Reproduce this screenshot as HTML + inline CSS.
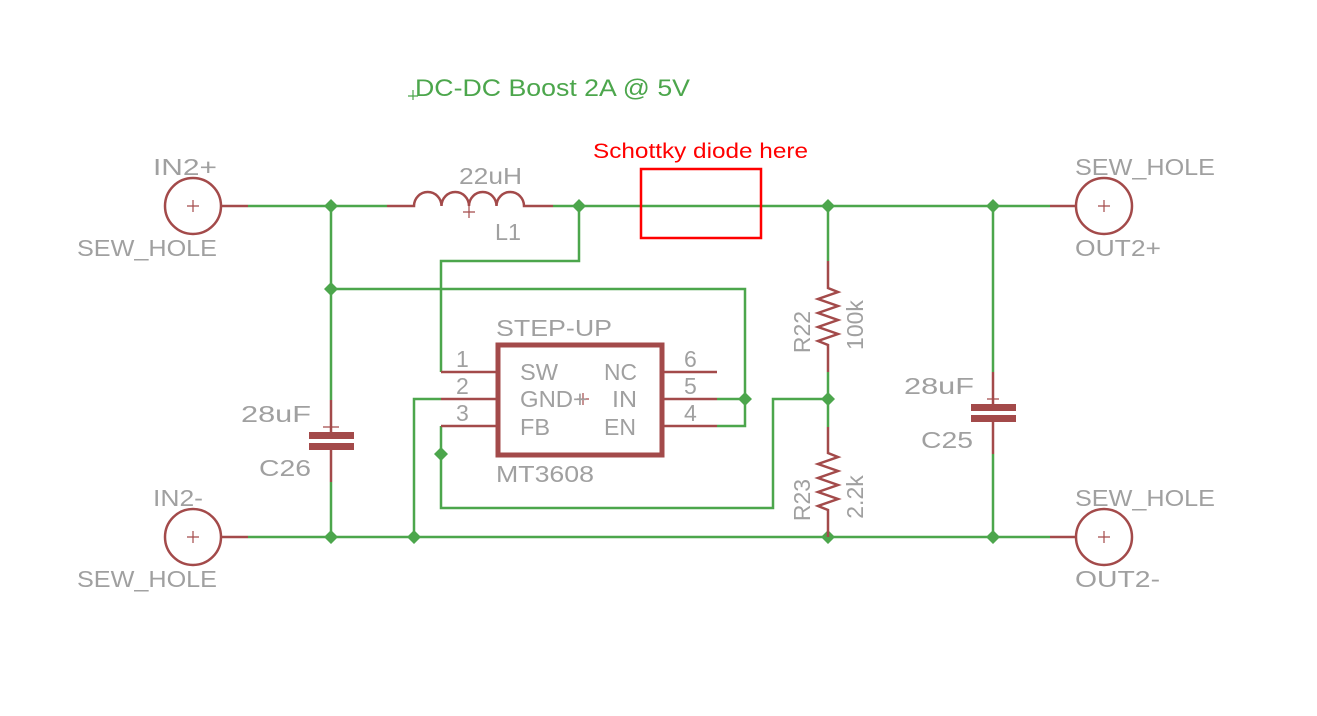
<!DOCTYPE html>
<html><head><meta charset="utf-8"><style>
html,body{margin:0;padding:0;background:#fff;}
svg{display:block;}
text{font-family:"Liberation Sans","DejaVu Sans",sans-serif;}
.g{fill:#a0a0a0;font-size:23px;}
</style></head><body>
<svg width="1317" height="716" viewBox="0 0 1317 716" xmlns="http://www.w3.org/2000/svg">
<g stroke="#4ca64c" stroke-width="2.5" fill="none">
<line x1="248" y1="206" x2="387" y2="206"/>
<line x1="553" y1="206" x2="1050" y2="206"/>
<line x1="248" y1="537" x2="1050" y2="537"/>
<line x1="331" y1="206" x2="331" y2="400"/>
<line x1="331" y1="482" x2="331" y2="537"/>
<line x1="993" y1="206" x2="993" y2="372"/>
<line x1="993" y1="454" x2="993" y2="537"/>
<line x1="828" y1="206" x2="828" y2="261"/>
<line x1="828" y1="372" x2="828" y2="427"/>
<polyline points="579,206 579,261 441,261 441,372"/>
<polyline points="331,289 745,289 745,426 717,426"/>
<line x1="717" y1="399" x2="745" y2="399"/>
<polyline points="441,399 414,399 414,537"/>
<polyline points="441,426 441,508 773,508 773,399 828,399"/>
</g>
<g fill="#4ca64c">
<path d="M331,199l7,7l-7,7l-7,-7z M331,282l7,7l-7,7l-7,-7z M331,530l7,7l-7,7l-7,-7z M414,530l7,7l-7,7l-7,-7z M579,199l7,7l-7,7l-7,-7z M828,199l7,7l-7,7l-7,-7z M828,392l7,7l-7,7l-7,-7z M828,530l7,7l-7,7l-7,-7z M993,199l7,7l-7,7l-7,-7z M993,530l7,7l-7,7l-7,-7z M745,392l7,7l-7,7l-7,-7z M441,447l7,7l-7,7l-7,-7z"/>
</g>
<g stroke="#a34a4a" stroke-width="2.5" fill="none">
<circle cx="193" cy="206" r="28"/><circle cx="193" cy="537" r="28"/>
<circle cx="1104" cy="206" r="28"/><circle cx="1104" cy="537" r="28"/>
<line x1="221" y1="206" x2="248" y2="206"/><line x1="221" y1="537" x2="248" y2="537"/>
<line x1="1050" y1="206" x2="1076" y2="206"/><line x1="1050" y1="537" x2="1076" y2="537"/>
<path d="M387,206 L414,206 A13.75,14 0 0 1 441.5,206 A13.75,14 0 0 1 469,206 A13.75,14 0 0 1 496.5,206 A13.75,14 0 0 1 524,206 L553,206"/>
<line x1="331" y1="400" x2="331" y2="432"/><line x1="331" y1="450" x2="331" y2="482"/>
<line x1="993" y1="372" x2="993" y2="404"/><line x1="993" y1="421" x2="993" y2="454"/>
<polyline points="828,261 828,288 838,292 818,299 838,306 818,313 838,320 818,327 838,334 818,341 828,345 828,372"/>
<polyline points="828,427 828,453 838,457 818,464 838,471 818,478 838,485 818,492 838,499 818,506 828,510 828,537"/>
<line x1="441" y1="372" x2="497" y2="372"/><line x1="441" y1="399" x2="497" y2="399"/><line x1="441" y1="426" x2="497" y2="426"/>
<line x1="662" y1="372" x2="717" y2="372"/><line x1="662" y1="399" x2="717" y2="399"/><line x1="662" y1="426" x2="717" y2="426"/>
</g>
<rect x="498" y="345" width="164" height="110" fill="none" stroke="#a34a4a" stroke-width="5"/>
<g fill="#a34a4a">
<rect x="309" y="432" width="45" height="7"/><rect x="309" y="443" width="45" height="7"/>
<rect x="971" y="404" width="45" height="7"/><rect x="971" y="415" width="45" height="7"/>
</g>
<g stroke="#a34a4a" stroke-width="1.2">
<path d="M187,206h12M193,200v12M187,537h12M193,531v12M1098,206h12M1104,200v12M1098,537h12M1104,531v12"/>
<path d="M463,212h12M469,206v12M323,427h16M987,399h12M577,399h12M583,393v12"/>
</g>
<rect x="641" y="169" width="120" height="69" fill="none" stroke="#ff0000" stroke-width="2.5"/>
<text x="593" y="158" fill="#ff0000" font-size="21" textLength="215" lengthAdjust="spacingAndGlyphs">Schottky diode here</text>
<text x="415" y="96" fill="#4ca64c" font-size="24" textLength="275" lengthAdjust="spacingAndGlyphs">DC-DC Boost 2A @ 5V</text>
<path d="M408,96h10M413,90v10" stroke="#4ca64c" stroke-width="1.2"/>
<g class="g">
<text x="153" y="175" class="g" textLength="64" lengthAdjust="spacingAndGlyphs">IN2+</text>
<text x="77" y="256" class="g" textLength="140" lengthAdjust="spacingAndGlyphs">SEW_HOLE</text>
<text x="153" y="506" class="g" textLength="50" lengthAdjust="spacingAndGlyphs">IN2-</text>
<text x="77" y="587" class="g" textLength="140" lengthAdjust="spacingAndGlyphs">SEW_HOLE</text>
<text x="1075" y="175" class="g" textLength="140" lengthAdjust="spacingAndGlyphs">SEW_HOLE</text>
<text x="1075" y="256" class="g" textLength="86" lengthAdjust="spacingAndGlyphs">OUT2+</text>
<text x="1075" y="506" class="g" textLength="140" lengthAdjust="spacingAndGlyphs">SEW_HOLE</text>
<text x="1075" y="587" class="g" textLength="85" lengthAdjust="spacingAndGlyphs">OUT2-</text>
<text x="459" y="184" class="g" textLength="63" lengthAdjust="spacingAndGlyphs">22uH</text>
<text x="495" y="240" class="g" textLength="26" lengthAdjust="spacingAndGlyphs">L1</text>
<text x="241" y="422" class="g" textLength="70" lengthAdjust="spacingAndGlyphs">28uF</text>
<text x="259" y="476" class="g" textLength="52" lengthAdjust="spacingAndGlyphs">C26</text>
<text x="904" y="394" class="g" textLength="70" lengthAdjust="spacingAndGlyphs">28uF</text>
<text x="921" y="448" class="g" textLength="52" lengthAdjust="spacingAndGlyphs">C25</text>
<text x="496" y="336" class="g" textLength="116" lengthAdjust="spacingAndGlyphs">STEP-UP</text>
<text x="496" y="482" class="g" textLength="98" lengthAdjust="spacingAndGlyphs">MT3608</text>
<text x="456" y="367" class="g" font-size="20">1</text>
<text x="456" y="394" class="g" font-size="20">2</text>
<text x="456" y="421" class="g" font-size="20">3</text>
<text x="684" y="367" class="g" font-size="20">6</text>
<text x="684" y="394" class="g" font-size="20">5</text>
<text x="684" y="421" class="g" font-size="20">4</text>
<text x="520" y="380" class="g" font-size="20" textLength="38" lengthAdjust="spacingAndGlyphs">SW</text>
<text x="520" y="407" class="g" font-size="20" textLength="67" lengthAdjust="spacingAndGlyphs">GND+</text>
<text x="520" y="435" class="g" font-size="20" textLength="30" lengthAdjust="spacingAndGlyphs">FB</text>
<text x="604" y="380" class="g" font-size="20" textLength="33" lengthAdjust="spacingAndGlyphs">NC</text>
<text x="612" y="407" class="g" font-size="20" textLength="25" lengthAdjust="spacingAndGlyphs">IN</text>
<text x="604" y="435" class="g" font-size="20" textLength="32" lengthAdjust="spacingAndGlyphs">EN</text>
<text transform="translate(810,332) rotate(-90)" text-anchor="middle" class="g">R22</text>
<text transform="translate(863,325) rotate(-90)" text-anchor="middle" class="g">100k</text>
<text transform="translate(810,500) rotate(-90)" text-anchor="middle" class="g">R23</text>
<text transform="translate(863,497) rotate(-90)" text-anchor="middle" class="g">2.2k</text>
</g>
</svg>
</body></html>
